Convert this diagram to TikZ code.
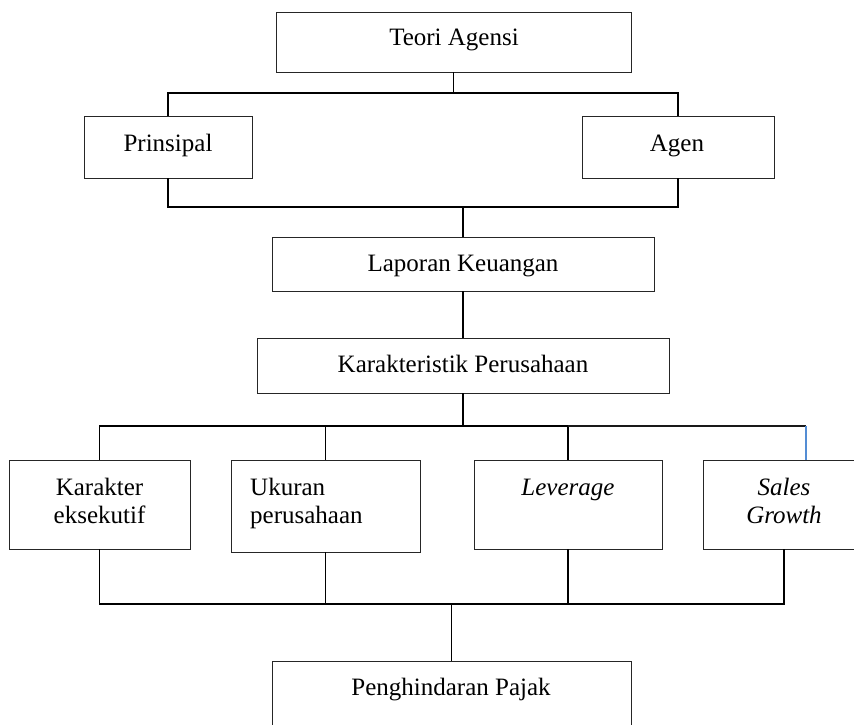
\documentclass[tikz,border=0pt]{standalone}
\usepackage{fontspec}
\setmainfont{Liberation Serif}
\begin{document}
\begin{tikzpicture}[x=1pt,y=-1pt,
  box/.style={draw=black!85, line width=0.9pt, rectangle, inner sep=0pt},
  txt/.style={inner sep=0pt, font=\fontsize{25}{28}\selectfont, align=center},
  conn/.style={line width=1.8pt, black},
  thin conn/.style={line width=1.2pt, black!90},
  blue conn/.style={line width=1.2pt, color={rgb,255:red,84;green,141;blue,212}}]
\useasboundingbox (0,0) rectangle (854,725);
% boxes
\node[box, minimum width=355pt, minimum height=60pt] (teori) at (453.5,42) {};
\node[box, minimum width=168pt, minimum height=62pt] (prin) at (168,147) {};
\node[box, minimum width=192pt, minimum height=62pt] (agen) at (678,147) {};
\node[box, minimum width=382pt, minimum height=54pt] (lap) at (463,264) {};
\node[box, minimum width=412pt, minimum height=55pt] (kar) at (463,365.5) {};
\node[box, minimum width=181pt, minimum height=89pt] (k1) at (99.5,504.5) {};
\node[box, minimum width=189pt, minimum height=92pt] (k2) at (325.5,506) {};
\node[box, minimum width=188pt, minimum height=89pt] (k3) at (568,504.5) {};
\node[box, minimum width=162pt, minimum height=89pt] (k4) at (784,504.5) {};
\node[box, minimum width=359pt, minimum height=84pt] (pen) at (451.5,703) {};
% texts
\node[txt, anchor=base] (tteori) at (454,46) {Teori Agensi};
\node[txt, anchor=base] (tprin) at (168,151) {Prinsipal};
\node[txt, anchor=base] (tagen) at (677,151) {Agen};
\node[txt, anchor=base] (tlap) at (463,271) {Laporan Keuangan};
\node[txt, anchor=base] (tkar) at (463,372) {Karakteristik Perusahaan};
\node[txt, anchor=base] (tk1) at (99.5,523) {Karakter\\eksekutif};
\node[txt, anchor=base west, align=left] (tk2) at (250,523) {Ukuran\\perusahaan};
\node[txt, anchor=base] (tk3) at (568,495) {\textit{Leverage}};
\node[txt, anchor=base] (tk4) at (784,523) {\textit{Sales}\\\textit{Growth}};
\node[txt, anchor=base] (tpen) at (451,695) {Penghindaran Pajak};
% junction coordinates
\coordinate (j1) at (453.5,93);
\coordinate (j2) at (463,207);
\coordinate (j3) at (463,426);
\coordinate (j3r) at (568,426);
\coordinate (sb) at (806,426);
\coordinate (j4) at (451.5,604);
% connectors
\draw[conn] (teori.south) -- (j1);
\draw[conn] (prin.north) |- (j1) -| (agen.north);
\draw[conn] (prin.south) |- (j2) -| (agen.south);
\draw[conn] (j2) -- (lap.north);
\draw[conn] (lap.south) -- (kar.north);
\draw[conn] (kar.south) -- (j3);
\draw[conn] (k1.north) |- (j3r) -- (k3.north);
\draw[conn] (k2.north) -- (k2.north |- j3);
\draw[thin conn] (j3r) -- (sb);
\draw[blue conn] (sb) -- (sb |- k4.north);
\draw[conn] (k1.south) |- (j4) -| (k4.south);
\draw[conn] (k2.south) -- (k2.south |- j4);
\draw[conn] (k3.south) -- (k3.south |- j4);
\draw[conn] (j4) -- (pen.north);
\end{tikzpicture}
\end{document}
